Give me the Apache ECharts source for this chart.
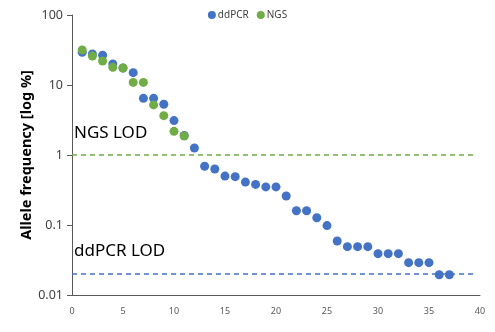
<!DOCTYPE html>
<html>
<head>
<meta charset="utf-8">
<script src="https://cdn.jsdelivr.net/npm/echarts@6/dist/echarts.min.js"></script>
<style>
    html, body { margin: 0; padding: 0; background: #fff; }
    #chart { width: 495px; height: 332px; }
</style>
</head>
<body>
<div id="chart"></div>
<script>
// 样本序号
var sampleIds = [];
for (var i = 1; i <= 37; i++) { sampleIds.push(i); }

// ddPCR 测得的等位基因频率 (%)
var ddpcrValues = [29.3, 27.7, 26.6, 20, 17.5, 15, 6.45, 6.45, 5.3, 3.1,
    1.9, 1.26, 0.69, 0.63, 0.5, 0.49, 0.41, 0.38, 0.35, 0.35,
    0.26, 0.16, 0.16, 0.127, 0.098, 0.059, 0.049, 0.049, 0.049, 0.039,
    0.039, 0.039, 0.029, 0.029, 0.029, 0.0195, 0.0195];

// NGS 测得的等位基因频率 (%)
var ngsValues = [31.6, 26, 22, 17.9, 17.5, 10.9, 10.9, 5.2, 3.65, 2.18, 1.87];

// 检测限 (线从0画到39.7)
var lodRange = [0, 39.7];
var ngsLod = 1;
var ddpcrLod = 0.02;

function toPairs(vals) {
    var arr = [];
    for (var i = 0; i < vals.length; i++) {
        arr.push([sampleIds[i], vals[i]]);
    }
    return arr;
}

function lodLine(name, lod, color) {
    return {
        name: name,
        type: 'line',
        silent: true,
        symbol: 'none',
        z: 1,
        lineStyle: { color: color, type: [5, 4], width: 1.5, opacity: 1 },
        data: [[lodRange[0], lod], [lodRange[1], lod]]
    };
}

var chart = echarts.init(document.getElementById('chart'));
var font = 'Noto Sans';
var option = {
    animation: false,
    textStyle: { fontFamily: font },
    legend: {
        top: 5,
        left: 'center',
        itemWidth: 8,
        itemHeight: 8,
        itemGap: 8,
        icon: 'circle',
        textStyle: { fontSize: 10, color: '#404040', padding: [0, 0, 0, -3] },
        data: ['ddPCR', 'NGS']
    },
    grid: { left: 72, right: 15, top: 15, bottom: 37 },
    xAxis: {
        type: 'value',
        min: 0,
        max: 40,
        interval: 5,
        splitLine: { show: false },
        axisTick: { show: false },
        axisLine: { lineStyle: { color: '#595959', width: 1 } },
        axisLabel: { fontSize: 9, color: '#595959', margin: 12 }
    },
    yAxis: {
        type: 'log',
        logBase: 10,
        min: 0.01,
        max: 100,
        name: 'Allele frequency [log %]',
        nameLocation: 'middle',
        nameGap: 38,
        nameMoveOverlap: false,
        nameTextStyle: { fontSize: 14.5, fontWeight: 'bold', color: '#000' },
        splitLine: { show: false },
        axisLine: { show: true, lineStyle: { color: '#595959', width: 1 } },
        axisTick: { show: true, length: 5, lineStyle: { color: '#595959' } },
        axisLabel: { fontSize: 12.5, color: '#404040', margin: 9,
            formatter: function (v) { return String(+v.toPrecision(2)); } }
    },
    series: [
        lodLine('ddPCR LOD', ddpcrLod, '#4472C4'),
        lodLine('NGS LOD', ngsLod, '#70AD47'),
        {
            name: 'ddPCR',
            type: 'scatter',
            symbolSize: 9,
            itemStyle: { color: '#4472C4', opacity: 1 },
            data: toPairs(ddpcrValues)
        }, {
            name: 'NGS',
            type: 'scatter',
            symbolSize: 9,
            itemStyle: { color: '#70AD47', opacity: 1 },
            data: toPairs(ngsValues)
        }
    ],
    graphic: [{
        type: 'text', left: 74, top: 125,
        style: { text: 'NGS LOD', fontSize: 17, fontFamily: font, fill: '#000' }
    }, {
        type: 'text', left: 74, top: 243,
        style: { text: 'ddPCR LOD', fontSize: 17, fontFamily: font, fill: '#000' }
    }]
};
chart.setOption(option);
</script>
</body>
</html>
